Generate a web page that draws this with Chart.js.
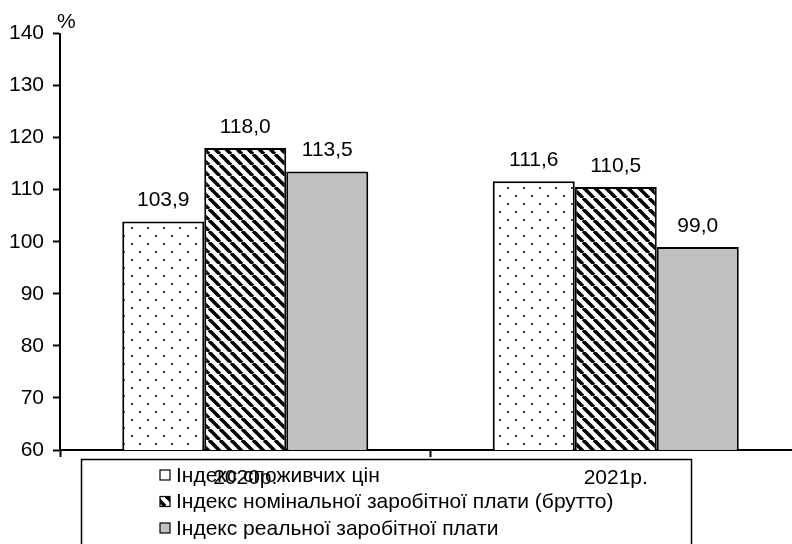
<!DOCTYPE html>
<html>
<head>
    <meta charset="UTF-8" />
    <title>Індекси цін та заробітної плати</title>
    <script src="https://cdn.jsdelivr.net/npm/chart.js"></script>
    <style>
        html, body { margin: 0; padding: 0; background: #fff; overflow: hidden; }
        #wrap { width: 801px; height: 544px; }
    </style>
</head>
<body>
    <div id="wrap"><canvas id="wageChart" width="801" height="544"></canvas></div>

    <script>
        // data
        const categories = ['2020р.', '2021р.'];
        const seriesLabels = [
            'Індекс споживчих цін',
            'Індекс номінальної заробітної плати (брутто)',
            'Індекс реальної заробітної плати'
        ];
        const cpiValues = [103.9, 111.6];
        const nominalValues = [118.0, 110.5];
        const realValues = [113.5, 99.0];
        const yMin = 60, yMax = 140, yStep = 10;
        const unitLabel = '%';

        const FONT = '"Liberation Sans", Arial, sans-serif';
        const FSIZE = 21;

        // dotted fill
        function dotPattern() {
            const c = document.createElement('canvas');
            c.width = 16; c.height = 16;
            const g = c.getContext('2d');
            g.fillStyle = '#fff';
            g.fillRect(0, 0, 16, 16);
            g.fillStyle = '#333';
            g.fillRect(3, 3, 2, 2);
            g.fillRect(11, 11, 2, 2);
            return g.createPattern(c, 'repeat');
        }

        // diagonal "\" stripes
        function stripePattern() {
            const s = 11;
            const c = document.createElement('canvas');
            c.width = s; c.height = s;
            const g = c.getContext('2d');
            g.fillStyle = '#fff';
            g.fillRect(0, 0, s, s);
            g.strokeStyle = '#000';
            g.lineWidth = 3.6;
            for (let k = -1; k <= 1; k++) {
                g.beginPath();
                g.moveTo(k * s, 0);
                g.lineTo(k * s + s, s);
                g.stroke();
            }
            return g.createPattern(c, 'repeat');
        }

        const fills = [dotPattern(), stripePattern(), '#c0c0c0'];

        // value labels, "%" sign and boxed legend
        const extras = {
            id: 'extras',
            afterDatasetsDraw(chart) {
                const ctx = chart.ctx;
                ctx.save();
                ctx.font = FSIZE + 'px ' + FONT;
                ctx.fillStyle = '#000';
                ctx.textAlign = 'center';
                ctx.textBaseline = 'alphabetic';
                chart.data.datasets.forEach((ds, i) => {
                    chart.getDatasetMeta(i).data.forEach((bar, j) => {
                        const txt = ds.data[j].toFixed(1).replace('.', ',');
                        ctx.fillText(txt, bar.x, bar.y - 15);
                    });
                });
                ctx.textAlign = 'left';
                ctx.fillText(unitLabel, 57, 28);
                ctx.restore();
            },
            afterDraw(chart) {
                const ctx = chart.ctx;
                ctx.save();
                ctx.strokeStyle = '#000';
                ctx.lineWidth = 1.5;
                ctx.strokeRect(81.5, 459.5, 610, 120);
                ctx.font = FSIZE + 'px ' + FONT;
                ctx.textBaseline = 'middle';
                ctx.textAlign = 'left';
                chart.data.datasets.forEach((ds, i) => {
                    const y = 475 + i * 26.5;
                    ctx.fillStyle = ds.backgroundColor;
                    ctx.fillRect(160, y - 5, 10, 10);
                    ctx.strokeStyle = '#000';
                    ctx.lineWidth = 1.2;
                    ctx.strokeRect(160, y - 5, 10, 10);
                    ctx.fillStyle = '#000';
                    ctx.fillText(ds.label, 176, y + 1);
                });
                ctx.restore();
            }
        };

        const ctx = document.getElementById('wageChart').getContext('2d');
        new Chart(ctx, {
            type: 'bar',
            data: {
                labels: categories,
                datasets: [
                    { label: seriesLabels[0], data: cpiValues, backgroundColor: fills[0] },
                    { label: seriesLabels[1], data: nominalValues, backgroundColor: fills[1] },
                    { label: seriesLabels[2], data: realValues, backgroundColor: fills[2] }
                ].map(ds => Object.assign(ds, {
                    borderColor: '#000',
                    borderWidth: 2,
                    borderSkipped: false,
                    categoryPercentage: 0.664,
                    barPercentage: 1
                }))
            },
            options: {
                responsive: false,
                animation: false,
                layout: { padding: { top: 33.5, left: 0, right: 0, bottom: 0 } },
                plugins: {
                    legend: { display: false },
                    tooltip: { enabled: false }
                },
                scales: {
                    x: {
                        border: { display: true, color: '#000', width: 2 },
                        grid: {
                            offset: true,
                            drawOnChartArea: false,
                            drawTicks: true,
                            tickLength: 7,
                            tickColor: '#000',
                            tickWidth: 2
                        },
                        ticks: {
                            color: '#000',
                            padding: 9,
                            font: { family: FONT, size: FSIZE }
                        },
                        afterFit(scale) { scale.height = 94; }
                    },
                    y: {
                        min: yMin,
                        max: yMax,
                        border: { display: true, color: '#000', width: 2 },
                        grid: {
                            drawOnChartArea: false,
                            tickLength: 7,
                            tickColor: '#000',
                            tickWidth: 2
                        },
                        ticks: {
                            stepSize: yStep,
                            color: '#000',
                            padding: 9,
                            font: { family: FONT, size: FSIZE }
                        },
                        afterFit(scale) { scale.width = 60; }
                    }
                }
            },
            plugins: [extras]
        });
    </script>
</body>
</html>
